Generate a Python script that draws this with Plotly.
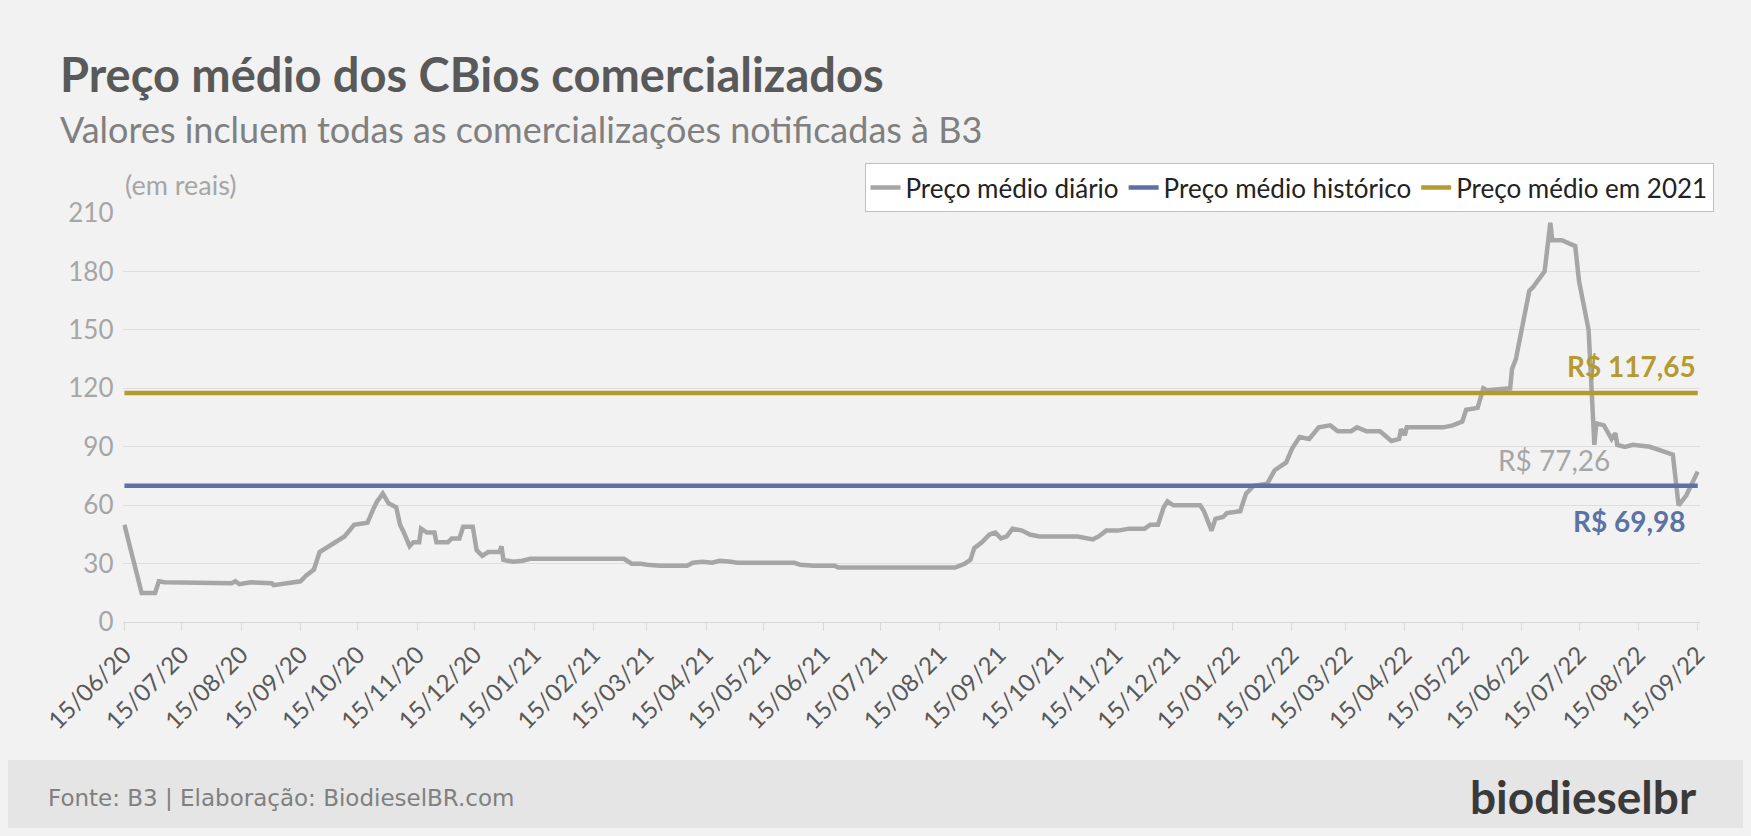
import plotly.graph_objects as go
import pandas as pd

# preço médio diário
dates = [
    "2020-06-15", "2020-06-24", "2020-07-01", "2020-07-03", "2020-07-06", "2020-08-10", "2020-08-12", "2020-08-14",
    "2020-08-20", "2020-08-31", "2020-09-01", "2020-09-10", "2020-09-15", "2020-09-18", "2020-09-22", "2020-09-25",
    "2020-10-02", "2020-10-08", "2020-10-13", "2020-10-20", "2020-10-23", "2020-10-25", "2020-10-28", "2020-10-31",
    "2020-11-04", "2020-11-06", "2020-11-08", "2020-11-11", "2020-11-13", "2020-11-16", "2020-11-17", "2020-11-20",
    "2020-11-24", "2020-11-25", "2020-12-01", "2020-12-03", "2020-12-07", "2020-12-09", "2020-12-14", "2020-12-16",
    "2020-12-19", "2020-12-22", "2020-12-28", "2020-12-29", "2020-12-30", "2021-01-04", "2021-01-09", "2021-01-13",
    "2021-03-03", "2021-03-07", "2021-03-12", "2021-03-15", "2021-03-22", "2021-04-05", "2021-04-08", "2021-04-13",
    "2021-04-18", "2021-04-22", "2021-04-28", "2021-05-01", "2021-05-31", "2021-06-03", "2021-06-10", "2021-06-21",
    "2021-06-23", "2021-08-23", "2021-08-28", "2021-08-31", "2021-09-02", "2021-09-06", "2021-09-10", "2021-09-13",
    "2021-09-16", "2021-09-19", "2021-09-22", "2021-09-27", "2021-10-01", "2021-10-06", "2021-10-26", "2021-10-30",
    "2021-11-03", "2021-11-06", "2021-11-10", "2021-11-16", "2021-11-22", "2021-11-30", "2021-12-03", "2021-12-07",
    "2021-12-10", "2021-12-12", "2021-12-15", "2021-12-25", "2021-12-29", "2021-12-31", "2022-01-04", "2022-01-06",
    "2022-01-10", "2022-01-12", "2022-01-19", "2022-01-22", "2022-01-26", "2022-02-02", "2022-02-06", "2022-02-12",
    "2022-02-15", "2022-02-19", "2022-02-24", "2022-03-01", "2022-03-07", "2022-03-11", "2022-03-18", "2022-03-21",
    "2022-03-26", "2022-04-02", "2022-04-08", "2022-04-12", "2022-04-13", "2022-04-15", "2022-04-16", "2022-05-05",
    "2022-05-10", "2022-05-15", "2022-05-17", "2022-05-23", "2022-05-26", "2022-05-28", "2022-06-09", "2022-06-10",
    "2022-06-12", "2022-06-19", "2022-06-21", "2022-06-27", "2022-06-30", "2022-07-01", "2022-07-06", "2022-07-13",
    "2022-07-15", "2022-07-20", "2022-07-23", "2022-07-24", "2022-07-28", "2022-08-01", "2022-08-03", "2022-08-04",
    "2022-08-08", "2022-08-12", "2022-08-21", "2022-09-02", "2022-09-05", "2022-09-09", "2022-09-15",
]
prices = [
    50, 15, 15, 21, 20.5, 20, 21, 19.5,
    20.5, 20, 19, 20, 21, 24, 27, 36,
    40, 44, 50, 51, 58, 62, 66, 61,
    59, 50, 46, 39, 41, 41, 48, 46,
    46, 41, 41, 43, 43, 49, 49, 37,
    34, 36, 36, 39, 32, 31, 31.5, 32.5,
    32.5, 30, 30, 29.5, 29, 29, 30.5, 31,
    30.5, 31.5, 31, 30.5, 30.5, 29.5, 29, 29,
    28, 28, 30, 32, 38, 41, 45, 46,
    43, 44, 48, 47, 45, 44, 44, 43,
    42.5, 44, 47, 47, 48, 48, 50, 50,
    59, 62, 60, 60, 60, 57, 47, 53,
    54, 56, 57, 66, 70, 71, 78, 82,
    89, 95, 94, 100, 101, 98, 98, 100,
    98, 98, 93, 94, 99, 96, 100, 100,
    101, 103, 109, 110, 120, 119, 120, 130,
    135, 170, 172, 180, 205, 196, 196, 193,
    175, 150, 91, 102, 101, 94, 97, 91,
    90, 91, 90, 86, 60, 65, 77.26,
]
media_historica = 69.98
media_2021 = 117.65

tick_dates = pd.date_range("2020-06-01", "2022-09-15", freq="MS") + pd.Timedelta(days=14)
tick_labels = [d.strftime("%d/%m/%y") for d in tick_dates]

GRAY = "#a6a6a6"
BLUE = "#5b72a5"
GOLD = "#b59a32"
FONT = "Lato"

x_range = ["2020-06-15", "2022-09-15"]

fig = go.Figure()
fig.add_trace(go.Scatter(x=pd.to_datetime(dates), y=prices, mode="lines",
                         line=dict(color=GRAY, width=4.5), name="Preço médio diário"))
fig.add_trace(go.Scatter(x=x_range, y=[media_historica] * 2, mode="lines",
                         line=dict(color=BLUE, width=4.5), name="Preço médio histórico"))
fig.add_trace(go.Scatter(x=x_range, y=[media_2021] * 2, mode="lines",
                         line=dict(color=GOLD, width=4.5), name="Preço médio em 2021"))

# rodapé
fig.add_shape(type="rect", xref="paper", yref="paper", x0=-0.01, x1=1.01, y0=-0.02, y1=0.083,
              fillcolor="#e5e5e5", line_width=0, layer="below")

ann = [
    dict(x=0.029, y=0.92, text="<b>Preço médio dos CBios comercializados</b>",
         font=dict(size=47, color="#595959", family=FONT), xanchor="left", yanchor="middle"),
    dict(x=0.029, y=0.853, text="Valores incluem todas as comercializações notificadas à B3",
         font=dict(size=36, color="#808080", family=FONT), xanchor="left", yanchor="middle"),
    dict(x=0.066, y=0.785, text="(em reais)",
         font=dict(size=27, color="#a6a6a6", family=FONT), xanchor="left", yanchor="middle"),
    dict(x=0.022, y=0.036, text="Fonte: B3 | Elaboração: BiodieselBR.com",
         font=dict(size=23, color="#808080", family="DejaVu Sans"), xanchor="left", yanchor="middle"),
    dict(x=0.974, y=0.038, text="<b>biodieselbr</b>",
         font=dict(size=46, color="#3a3a3a", family=FONT), xanchor="right", yanchor="middle"),
]
for a in ann:
    fig.add_annotation(xref="paper", yref="paper", showarrow=False, **a)

fig.add_annotation(x="2022-09-15", y=media_2021, yshift=27, text="<b>R$ 117,65</b>", showarrow=False,
                   xanchor="right", font=dict(size=28, color=GOLD, family=FONT))
fig.add_annotation(x="2022-07-02", y=media_historica, yshift=26, text="R$ 77,26", showarrow=False,
                   xanchor="center", font=dict(size=28, color=GRAY, family=FONT))
fig.add_annotation(x="2022-09-10", y=media_historica, yshift=-35, text="<b>R$ 69,98</b>", showarrow=False,
                   xanchor="right", font=dict(size=28, color=BLUE, family=FONT))

fig.update_layout(
    width=1735, height=820,
    margin=dict(l=0, r=0, t=0, b=0, autoexpand=False),
    paper_bgcolor="#f2f2f2", plot_bgcolor="#f2f2f2",
    showlegend=True,
    legend=dict(orientation="h", x=0.983, xanchor="right", y=0.811, yanchor="top",
                bgcolor="white", bordercolor="#bfbfbf", borderwidth=1,
                font=dict(size=26, color="#222222", family=FONT)),
    xaxis=dict(domain=[0.066, 0.975], range=["2020-06-14", "2022-09-16"], type="date",
               tickvals=tick_dates, ticktext=tick_labels, tickangle=-45, automargin=False,
               tickfont=dict(size=24, color="#595959", family=FONT),
               showgrid=False, ticks="outside", ticklen=8, tickcolor="#d9d9d9",
               showline=True, linecolor="#d9d9d9", zeroline=False),
    yaxis=dict(domain=[0.251, 0.75], range=[0, 210], tickvals=list(range(0, 211, 30)),
               automargin=False,
               tickfont=dict(size=26, color="#a6a6a6", family=FONT),
               gridcolor="#dedede", gridwidth=1, zeroline=False, ticks="", ticklabelstandoff=8),
)

fig.write_html("out.html", config={"displayModeBar": False},
               post_script="document.body.style.background='#f2f2f2';")
